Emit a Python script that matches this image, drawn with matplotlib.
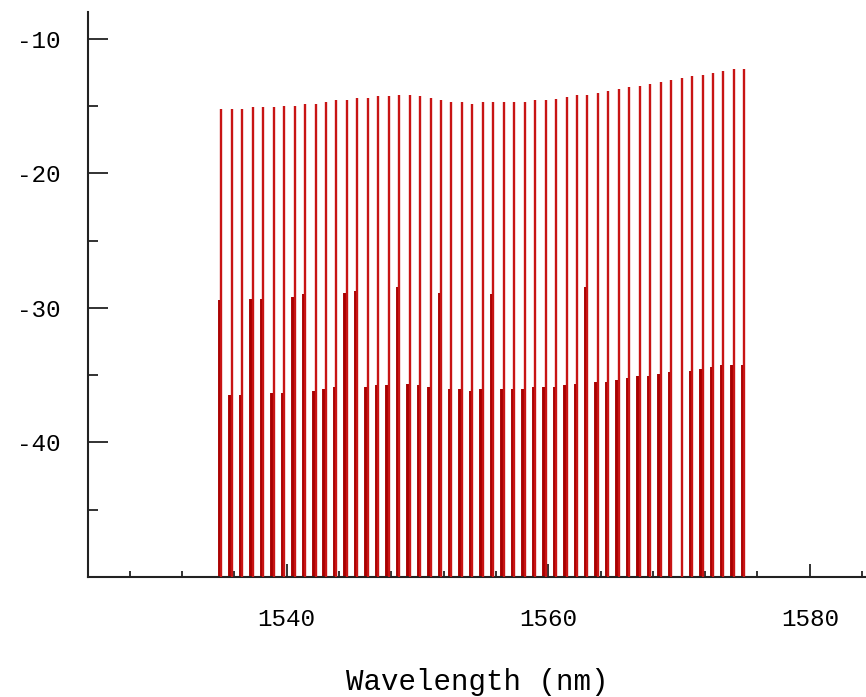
import numpy as np
import matplotlib
matplotlib.use("Agg")
import matplotlib.pyplot as plt
from matplotlib.ticker import MultipleLocator, FixedLocator
from matplotlib.transforms import offset_copy

# =========================
# 1. Data
# =========================
wavelength_nm = [
    1535.0, 1535.8, 1536.6, 1537.4, 1538.2, 1539.0, 1539.8, 1540.6, 1541.4, 1542.2,
    1543.0, 1543.8, 1544.6, 1545.4, 1546.2, 1547.0, 1547.8, 1548.6, 1549.4, 1550.2,
    1551.0, 1551.8, 1552.6, 1553.4, 1554.2, 1555.0, 1555.8, 1556.6, 1557.4, 1558.2,
    1559.0, 1559.8, 1560.6, 1561.4, 1562.2, 1563.0, 1563.8, 1564.6, 1565.4, 1566.2,
    1567.0, 1567.8, 1568.6, 1569.4, 1570.2, 1571.0, 1571.8, 1572.6, 1573.4, 1574.2,
    1575.0,
]

# thin lines: output channel power (dBm)
power_out = [
    -15.20, -15.20, -15.20, -15.08, -15.08, -15.08, -14.96, -14.96, -14.81, -14.81,
    -14.68, -14.54, -14.54, -14.41, -14.41, -14.26, -14.26, -14.14, -14.14, -14.26,
    -14.41, -14.54, -14.68, -14.68, -14.81, -14.70, -14.70, -14.70, -14.70, -14.70,
    -14.56, -14.56, -14.44, -14.29, -14.14, -14.14, -14.02, -13.87, -13.74, -13.59,
    -13.47, -13.35, -13.20, -13.05, -12.93, -12.78, -12.66, -12.53, -12.38, -12.26,
    -12.26,
]

# thick lines: input channel power (dBm), nan = not present
power_in = [
    -29.40, -36.45, -36.45, -29.30, -29.30, -36.30, -36.30, -29.15, -29.00, -36.17,
    -36.02, -35.90, -28.88, -28.73, -35.90, -35.75, -35.75, -28.46, -35.63, -35.75,
    -35.90, -28.88, -36.02, -36.02, -36.17, -36.02, -29.00, -36.02, -36.02, -36.02,
    -35.90, -35.90, -35.90, -35.75, -35.63, -28.46, -35.50, -35.50, -35.36, -35.23,
    -35.08, -35.06, -34.94, -34.79, np.nan, -34.66, -34.54, -34.39, -34.27, -34.27,
    -34.27,
]

x_major = [1540, 1560, 1580]
y_major = [-10, -20, -30, -40]
y_minor = [-15, -25, -35, -45]
y_floor = -50

# =========================
# 2. Plot
# =========================
plt.rcParams["font.family"] = ["Liberation Mono", "DejaVu Sans Mono"]
plt.rcParams["axes.unicode_minus"] = False

fig = plt.figure(figsize=(8.66, 6.97), dpi=100)
ax = fig.add_axes([0.1016, 0.1722, 0.8984, 0.8106])

wl = np.array(wavelength_nm)
p_in = np.array(power_in)
ok = ~np.isnan(p_in)

shifted = offset_copy(ax.transData, fig=fig, x=-1.5, y=0, units="dots")
ax.vlines(wl[ok], y_floor, p_in[ok], colors="#a80000", linewidth=2.8,
          transform=shifted, zorder=2)
ax.vlines(wl, y_floor, power_out, colors="#c81414", linewidth=1.7, zorder=3)

ax.set_xlim(1524.8, 1584.3)
ax.set_ylim(y_floor, -8)

ax.xaxis.set_major_locator(FixedLocator(x_major))
ax.xaxis.set_minor_locator(MultipleLocator(4))
ax.yaxis.set_major_locator(FixedLocator(y_major))
ax.yaxis.set_minor_locator(FixedLocator(y_minor))

ax.tick_params(axis="x", which="major", direction="in", length=9.5, width=1.3,
               labelsize=17.5, pad=22, color="#222222")
ax.tick_params(axis="x", which="minor", direction="in", length=4.5, width=1.3,
               color="#222222")
ax.tick_params(axis="y", which="major", direction="in", length=14.5, width=1.3,
               labelsize=17.5, pad=20, color="#222222")
ax.tick_params(axis="y", which="minor", direction="in", length=7, width=1.3,
               color="#222222")

for side in ["top", "right"]:
    ax.spines[side].set_visible(False)
for side in ["left", "bottom"]:
    ax.spines[side].set_linewidth(1.5)
    ax.spines[side].set_color("#222222")

ax.set_xlabel("Wavelength (nm)", fontsize=21, labelpad=27)

fig.savefig("out.png", dpi=100)
